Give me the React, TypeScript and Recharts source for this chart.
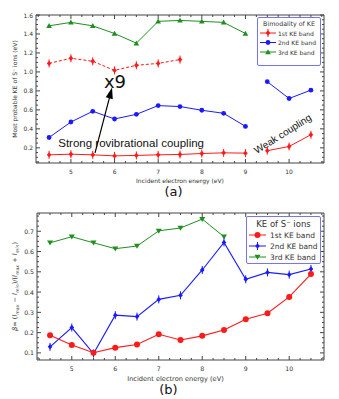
import React from 'react';
import { LineChart, Line, XAxis, YAxis, Legend, ReferenceLine, ReferenceDot, Label } from 'recharts';

// ---------- data ----------
const energies = [4.5, 5, 5.5, 6, 6.5, 7, 7.5, 8, 8.5, 9, 9.5, 10, 10.5];

// panel (a): most probable KE (eV)
const keBand1Low = [0.126, 0.133, 0.126, 0.115, 0.12, 0.126, 0.13, 0.14, 0.147, 0.144, null, null, null];
const keBand1High = [null, null, null, null, null, null, null, null, null, null, 0.17, 0.214, 0.338];
const keBand1x9 = [1.09, 1.144, 1.112, 1.016, 1.07, 1.09, 1.13, null, null, null, null, null, null];
const keBand2Low = [0.309, 0.472, 0.585, 0.504, 0.553, 0.645, 0.635, 0.596, 0.564, 0.426, null, null, null];
const keBand2High = [null, null, null, null, null, null, null, null, null, null, 0.897, 0.72, 0.808];
const keBand3 = [1.486, 1.522, 1.486, 1.405, 1.303, 1.533, 1.543, 1.533, 1.522, 1.405, null, null, null];

// panel (b): beta
const betaBand1 = [0.187, 0.139, 0.101, 0.126, 0.141, 0.192, 0.164, 0.184, 0.213, 0.266, 0.296, 0.376, 0.489];
const betaBand2 = [0.13, 0.225, 0.097, 0.286, 0.279, 0.364, 0.384, 0.509, 0.645, 0.463, 0.497, 0.486, 0.514];
const betaBand3 = [0.643, 0.673, 0.643, 0.614, 0.627, 0.702, 0.716, 0.76, 0.673, null, null, null, null];

// ticks
const xDomain = [4.2, 10.8];
const xTicks = [4.25, 4.5, 4.75, 5, 5.25, 5.5, 5.75, 6, 6.25, 6.5, 6.75, 7, 7.25, 7.5, 7.75, 8, 8.25, 8.5, 8.75, 9, 9.25, 9.5, 9.75, 10, 10.25, 10.5, 10.75];
const xLabels = [5, 6, 7, 8, 9, 10];
const yDomainA = [0.04, 1.6];
const yTicksA = [0.05, 0.1, 0.15, 0.2, 0.25, 0.3, 0.35, 0.4, 0.45, 0.5, 0.55, 0.6, 0.65, 0.7, 0.75, 0.8, 0.85, 0.9, 0.95, 1.0, 1.05, 1.1, 1.15, 1.2, 1.25, 1.3, 1.35, 1.4, 1.45, 1.5, 1.55, 1.6];
const yLabelsA = [0.2, 0.4, 0.6, 0.8, 1.0, 1.2, 1.4, 1.6];
const yDomainB = [0.065, 0.79];
const yTicksB = [0.075, 0.1, 0.125, 0.15, 0.175, 0.2, 0.225, 0.25, 0.275, 0.3, 0.325, 0.35, 0.375, 0.4, 0.425, 0.45, 0.475, 0.5, 0.525, 0.55, 0.575, 0.6, 0.625, 0.65, 0.675, 0.7, 0.725, 0.75, 0.775];
const yLabelsB = [0.1, 0.2, 0.3, 0.4, 0.5, 0.6, 0.7];

const legendA = ['1st KE band', '2nd KE band', '3rd KE band'];
const legendB = ['1st KE band', '2nd KE band', '3rd KE band'];

const rowsA = energies.map((x, i) => ({
  x,
  b1: keBand1Low[i],
  b1h: keBand1High[i],
  b1x9: keBand1x9[i],
  b2: keBand2Low[i],
  b2h: keBand2High[i],
  b3: keBand3[i],
}));
const rowsB = energies.map((x, i) => ({ x, b1: betaBand1[i], b2: betaBand2[i], b3: betaBand3[i] }));

// ---------- style ----------
const RED = '#ff1a1a';
const BLUE = '#1a1aff';
const GREEN = '#1f8f1f';
const AXIS = '#444';
const TXT = '#333';
const FONT = 'DejaVu Sans, sans-serif';

type Shape = 'diamondBar' | 'circle' | 'bigCircle' | 'triUp' | 'triDown';

const marker = (shape: Shape, color: string, cx: number, cy: number, key?: any) => {
  switch (shape) {
    case 'diamondBar':
      return (
        <g key={key}>
          <line x1={cx} x2={cx} y1={cy - 4} y2={cy + 4} stroke={color} strokeWidth={1} />
          <polygon points={`${cx},${cy - 2.7} ${cx + 2.3},${cy} ${cx},${cy + 2.7} ${cx - 2.3},${cy}`} fill={color} />
        </g>
      );
    case 'circle':
      return <circle key={key} cx={cx} cy={cy} r={2.4} fill={color} />;
    case 'bigCircle':
      return <circle key={key} cx={cx} cy={cy} r={3} fill={color} />;
    case 'triUp':
      return <polygon key={key} points={`${cx},${cy - 2.8} ${cx + 2.8},${cy + 2.2} ${cx - 2.8},${cy + 2.2}`} fill={color} />;
    case 'triDown':
      return <polygon key={key} points={`${cx},${cy + 2.8} ${cx + 3},${cy - 2.2} ${cx - 3},${cy - 2.2}`} fill={color} />;
  }
  return null;
};

const dotFn = (shape: Shape, color: string) => (p: any) => {
  const { cx, cy, index } = p;
  if (cx == null || cy == null || Number.isNaN(cx) || Number.isNaN(cy)) return <g key={`e${index}`} />;
  return marker(shape, color, cx, cy, `d${index}`);
};

const isIn = (arr: number[], v: number) => arr.some((a) => Math.abs(a - v) < 1e-6);

const tickFn = (side: 'bottom' | 'top' | 'left' | 'right', labels: number[], fontSize: number, labelOn: boolean, fmt: (v: number) => string) => (p: any) => {
  const { x, y, payload } = p;
  const v = payload.value;
  const major = isIn(labels, v);
  const len = major ? 4 : 2;
  let ln: any = null;
  let tx: any = null;
  if (side === 'bottom') {
    ln = <line x1={x} x2={x} y1={y} y2={y - len} stroke={AXIS} strokeWidth={1} />;
    if (labelOn && major) tx = <text x={x} y={y + 8} textAnchor="middle" dominantBaseline="central" fontSize={fontSize} fill={TXT} fontFamily={FONT}>{fmt(v)}</text>;
  } else if (side === 'top') {
    ln = <line x1={x} x2={x} y1={y} y2={y + len} stroke={AXIS} strokeWidth={1} />;
  } else if (side === 'left') {
    ln = <line x1={x} x2={x + len} y1={y} y2={y} stroke={AXIS} strokeWidth={1} />;
    if (labelOn && major) tx = <text x={x - 3} y={y} textAnchor="end" dominantBaseline="central" fontSize={fontSize} fill={TXT} fontFamily={FONT}>{fmt(v)}</text>;
  } else {
    ln = <line x1={x} x2={x - len} y1={y} y2={y} stroke={AXIS} strokeWidth={1} />;
  }
  return <g>{ln}{tx}</g>;
};

const fmt1 = (v: number) => v.toFixed(1);
const fmt0 = (v: number) => String(v);

const arrowShape = (p: any) => {
  const { x1, y1, x2, y2 } = p;
  if ([x1, y1, x2, y2].some((v) => v == null || Number.isNaN(v))) return <g />;
  const dx = x2 - x1;
  const dy = y2 - y1;
  const L = Math.sqrt(dx * dx + dy * dy) || 1;
  const ux = dx / L;
  const uy = dy / L;
  const hl = 11;
  const hw = 3.6;
  const bx = x2 - ux * hl;
  const by = y2 - uy * hl;
  const px = -uy;
  const py = ux;
  return (
    <g>
      <line x1={x1} y1={y1} x2={bx + ux * 2} y2={by + uy * 2} stroke="#000" strokeWidth={1.2} />
      <polygon points={`${x2},${y2} ${bx + px * hw},${by + py * hw} ${bx - px * hw},${by - py * hw}`} fill="#000" />
    </g>
  );
};

const textShape = (txt: string, size: number, family: string, rotate = 0) => (p: any) => {
  const { cx, cy } = p;
  if (cx == null || cy == null) return <g />;
  return (
    <text x={cx} y={cy} textAnchor="middle" dominantBaseline="central" fontSize={size} fontFamily={family} fill="#111"
      transform={rotate ? `rotate(${rotate} ${cx} ${cy})` : undefined}>{txt}</text>
  );
};

const LegendBox = ({ w, h, title, titleSize, names, shapes, colors, rows, lineX, textX, size }: any) => (
  <svg width={w} height={h} style={{ display: 'block' }}>
    <rect x={0.5} y={0.5} width={w - 1} height={h - 1} rx={1.5} fill="#fff" stroke="#7676e8" strokeWidth={1} />
    <text x={w / 2} y={rows[0]} textAnchor="middle" dominantBaseline="central" fontSize={titleSize} fontFamily={FONT} fill={TXT}>{title}</text>
    {names.map((n: string, i: number) => (
      <g key={n}>
        <line x1={lineX[0]} x2={lineX[1]} y1={rows[i + 1]} y2={rows[i + 1]} stroke={colors[i]} strokeWidth={1} />
        {marker(shapes[i], colors[i], (lineX[0] + lineX[1]) / 2, rows[i + 1])}
        <text x={textX} y={rows[i + 1]} dominantBaseline="central" fontSize={size} fontFamily={FONT} fill={TXT}>{n}</text>
      </g>
    ))}
  </svg>
);

const xLabelA = (p: any) => {
  const vb = p.viewBox;
  const cx = vb.x + vb.width / 2;
  return (
    <g>
      <text x={cx} y={vb.y + 17} textAnchor="middle" dominantBaseline="central" fontSize={6} fontFamily={FONT} fill={TXT}>Incident electron energy (eV)</text>
      <text x={cx - 6.5} y={vb.y + 28} textAnchor="middle" dominantBaseline="central" fontSize={13} fontFamily={FONT} fill="#111">(a)</text>
    </g>
  );
};
const xLabelB = (p: any) => {
  const vb = p.viewBox;
  const cx = vb.x + vb.width / 2;
  return (
    <g>
      <text x={cx - 5} y={vb.y + 19} textAnchor="middle" dominantBaseline="central" fontSize={6.6} fontFamily={FONT} fill={TXT}>Incident electron energy (eV)</text>
      <text x={cx - 12} y={vb.y + 29} textAnchor="middle" dominantBaseline="central" fontSize={13} fontFamily={FONT} fill="#111">(b)</text>
    </g>
  );
};
const yLabelA = (p: any) => {
  const vb = p.viewBox;
  const x = vb.x + 8;
  const y = vb.y + vb.height / 2;
  return (
    <text x={x} y={y} transform={`rotate(-90 ${x} ${y})`} textAnchor="middle" dominantBaseline="central" fontSize={6} fontFamily={FONT} fill={TXT}>
      Most probable KE of S⁻ ions (eV)
    </text>
  );
};
const yLabelB = (p: any) => {
  const vb = p.viewBox;
  const x = vb.x + 8;
  const y = vb.y + vb.height / 2;
  const s = 4.6;
  return (
    <text x={x} y={y} transform={`rotate(-90 ${x} ${y})`} textAnchor="middle" dominantBaseline="central" fontSize={6.6} fontFamily={FONT} fill={TXT}>
      <tspan fontStyle="italic">β</tspan><tspan>= (</tspan>
      <tspan fontStyle="italic">I</tspan><tspan fontSize={s} fontStyle="italic" dy={1.5}>max</tspan>
      <tspan dy={-1.5}> − </tspan>
      <tspan fontStyle="italic">I</tspan><tspan fontSize={s} fontStyle="italic" dy={1.5}>min</tspan>
      <tspan dy={-1.5}>)/(</tspan>
      <tspan fontStyle="italic">I</tspan><tspan fontSize={s} fontStyle="italic" dy={1.5}>max</tspan>
      <tspan dy={-1.5}> + </tspan>
      <tspan fontStyle="italic">I</tspan><tspan fontSize={s} fontStyle="italic" dy={1.5}>min</tspan>
      <tspan dy={-1.5}>)</tspan>
    </text>
  );
};

const frameAxes = (yDomain: number[], yTicks: number[], yLabels: number[], tickFont: number, xLabelContent: any, yLabelContent: any) => [
  <XAxis key="xb" dataKey="x" type="number" domain={xDomain} ticks={xTicks} interval={0} allowDataOverflow
    tickSize={0} tickMargin={0} height={25} axisLine={{ stroke: AXIS, strokeWidth: 1 }} tickLine={false}
    tick={tickFn('bottom', xLabels, tickFont, true, fmt0)}>
    <Label content={xLabelContent} />
  </XAxis>,
  <XAxis key="xt" xAxisId="top" orientation="top" dataKey="x" type="number" domain={xDomain} ticks={xTicks} interval={0} allowDataOverflow
    tickSize={0} tickMargin={0} height={1} axisLine={{ stroke: AXIS, strokeWidth: 1 }} tickLine={false}
    tick={tickFn('top', xLabels, tickFont, false, fmt0)} />,
  <YAxis key="yl" type="number" domain={yDomain} ticks={yTicks} interval={0} allowDataOverflow
    tickSize={0} tickMargin={0} width={30} axisLine={{ stroke: AXIS, strokeWidth: 1 }} tickLine={false}
    tick={tickFn('left', yLabels, tickFont, true, fmt1)}>
    <Label content={yLabelContent} />
  </YAxis>,
  <YAxis key="yr" yAxisId="right" orientation="right" type="number" domain={yDomain} ticks={yTicks} interval={0} allowDataOverflow
    tickSize={0} tickMargin={0} width={1} axisLine={{ stroke: AXIS, strokeWidth: 1 }} tickLine={false}
    tick={tickFn('right', yLabels, tickFont, false, fmt1)} />,
];

export default function App() {
  return (
    <div style={{ position: 'absolute', left: 0, top: 0, width: 339, height: 399, background: '#fff' }}>
      <LineChart width={339} height={200} data={rowsA} margin={{ top: 14, right: 14, bottom: 12, left: 6 }}>
        {frameAxes(yDomainA, yTicksA, yLabelsA, 6, xLabelA, yLabelA)}
        <Line dataKey="b3" stroke={GREEN} strokeWidth={1} dot={dotFn('triUp', GREEN)} isAnimationActive={false} />
        <Line dataKey="b1x9" stroke={RED} strokeWidth={1} strokeDasharray="3 2" dot={dotFn('diamondBar', RED)} isAnimationActive={false} />
        <Line dataKey="b2" stroke={BLUE} strokeWidth={1} dot={dotFn('circle', BLUE)} isAnimationActive={false} />
        <Line dataKey="b2h" stroke={BLUE} strokeWidth={1} dot={dotFn('circle', BLUE)} isAnimationActive={false} />
        <Line dataKey="b1" stroke={RED} strokeWidth={1} dot={dotFn('diamondBar', RED)} isAnimationActive={false} />
        <Line dataKey="b1h" stroke={RED} strokeWidth={1} dot={dotFn('diamondBar', RED)} isAnimationActive={false} />
        <ReferenceLine segment={[{ x: 5.553, y: 0.146 }, { x: 5.943, y: 0.835 }]} ifOverflow="visible" shape={arrowShape} />
        <ReferenceDot x={6.01} y={0.894} r={1} ifOverflow="visible" shape={textShape('x9', 18, FONT)} />
        <ReferenceDot x={6.38} y={0.252} r={1} ifOverflow="visible" shape={textShape('Strong rovibrational coupling', 11.5, 'Liberation Sans, Arial, sans-serif')} />
        <ReferenceDot x={9.854} y={0.348} r={1} ifOverflow="visible" shape={textShape('Weak coupling', 10, 'Liberation Sans, Arial, sans-serif', -32)} />
        <Legend align="center" verticalAlign="middle"
          wrapperStyle={{ position: 'absolute', left: 257, top: 17, width: 64, height: 49 }}
          content={() => (
            <LegendBox w={64} h={49} title="Bimodality of KE" titleSize={6.3} names={legendA}
              shapes={['diamondBar', 'circle', 'triUp']} colors={[RED, BLUE, GREEN]}
              rows={[6.5, 16, 25.5, 35]} lineX={[3, 19]} textX={21} size={6} />
          )} />
      </LineChart>
      <LineChart width={339} height={199} data={rowsB} margin={{ top: 12, right: 14, bottom: 14, left: 7 }}>
        {frameAxes(yDomainB, yTicksB, yLabelsB, 6.2, xLabelB, yLabelB)}
        <Line dataKey="b3" stroke={GREEN} strokeWidth={1} dot={dotFn('triDown', GREEN)} isAnimationActive={false} />
        <Line dataKey="b2" stroke={BLUE} strokeWidth={1.1} dot={dotFn('diamondBar', BLUE)} isAnimationActive={false} />
        <Line dataKey="b1" stroke={RED} strokeWidth={1.1} dot={dotFn('bigCircle', RED)} isAnimationActive={false} />
        <Legend align="center" verticalAlign="middle"
          wrapperStyle={{ position: 'absolute', left: 246, top: 16, width: 75, height: 48 }}
          content={() => (
            <LegendBox w={75} h={48} title="KE of S⁻ ions" titleSize={8.5} names={legendB}
              shapes={['bigCircle', 'diamondBar', 'triDown']} colors={[RED, BLUE, GREEN]}
              rows={[7.5, 19, 30, 41]} lineX={[3, 20]} textX={24} size={7.5} />
          )} />
      </LineChart>
    </div>
  );
}
